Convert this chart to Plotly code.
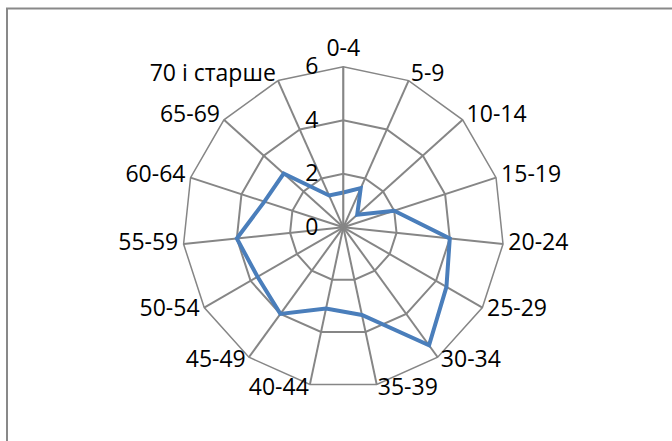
import plotly.graph_objects as go

# вікові групи
categories = ["0-4", "5-9", "10-14", "15-19", "20-24", "25-29", "30-34", "35-39",
              "40-44", "45-49", "50-54", "55-59", "60-64", "65-69", "70 і старше"]
values = [1.3, 1.6, 0.7, 2.0, 4.0, 4.45, 5.45, 3.35, 3.1, 4.0, 3.7, 4.0, 3.1, 3.0, 1.3]
tick_vals = [0, 2, 4, 6]

GRID = "#868686"
FONT = dict(family="Open Sans, Noto Sans, sans-serif", size=23, color="#000000")
LABEL_R = 6.2  # радіус підписів категорій

W, H = 672, 441
cx, cy, R = 343.3, 227.3, 160.6
R_MAX2 = LABEL_R + 0.05
R2 = R * R_MAX2 / 6

def dom(c, r, size, flip=False):
    a, b = (c - r) / size, (c + r) / size
    return [1 - b, 1 - a] if flip else [a, b]

n = len(categories)
positions = []
for i in range(n):
    if i == 0:
        positions.append("top center")
    elif i < n / 2:
        positions.append("middle right")
    else:
        positions.append("middle left")

fig = go.Figure()
fig.add_trace(go.Scatterpolar(
    r=values + values[:1],
    theta=categories + categories[:1],
    mode="lines",
    line=dict(color="#4A7EBB", width=4),
    showlegend=False,
))
# підписи категорій
fig.add_trace(go.Scatterpolar(
    r=[LABEL_R] * n,
    theta=categories,
    mode="text",
    text=categories,
    textposition=positions,
    textfont=FONT,
    cliponaxis=False,
    showlegend=False,
    hoverinfo="skip",
    subplot="polar2",
))

fig.update_layout(
    width=W, height=H,
    margin=dict(l=0, r=0, t=0, b=0, autoexpand=False),
    paper_bgcolor="white",
    font=FONT,
    polar=dict(
        domain=dict(x=dom(cx, R, W), y=dom(cy, R, H, True)),
        bgcolor="white",
        gridshape="linear",
        radialaxis=dict(
            range=[0, 6], tickvals=tick_vals, angle=90, tickangle=90,
            side="counterclockwise", ticks="outside", ticklen=16,
            tickcolor="rgba(0,0,0,0)", showline=True,
            linecolor=GRID, linewidth=1.5, gridcolor=GRID, gridwidth=1.5,
            tickfont=FONT,
        ),
        angularaxis=dict(
            direction="clockwise", rotation=90, ticks="",
            showticklabels=False,
            showline=True, linecolor=GRID, linewidth=1.5,
            gridcolor=GRID, gridwidth=1.5,
        ),
    ),
    polar2=dict(
        domain=dict(x=dom(cx, R2, W), y=dom(cy, R2, H, True)),
        bgcolor="rgba(0,0,0,0)",
        gridshape="linear",
        radialaxis=dict(range=[0, R_MAX2], visible=False),
        angularaxis=dict(direction="clockwise", rotation=90, visible=False,
                         categoryarray=categories, categoryorder="array"),
    ),
)

fig.add_shape(type="rect", xref="paper", yref="paper",
              x0=7 / W, x1=1.1, y0=-0.1, y1=1 - 8.5 / H,
              line=dict(color="#898989", width=2), layer="below")

fig.write_html("out.html", config={"displayModeBar": False},
               post_script="document.body.style.margin='0';")
